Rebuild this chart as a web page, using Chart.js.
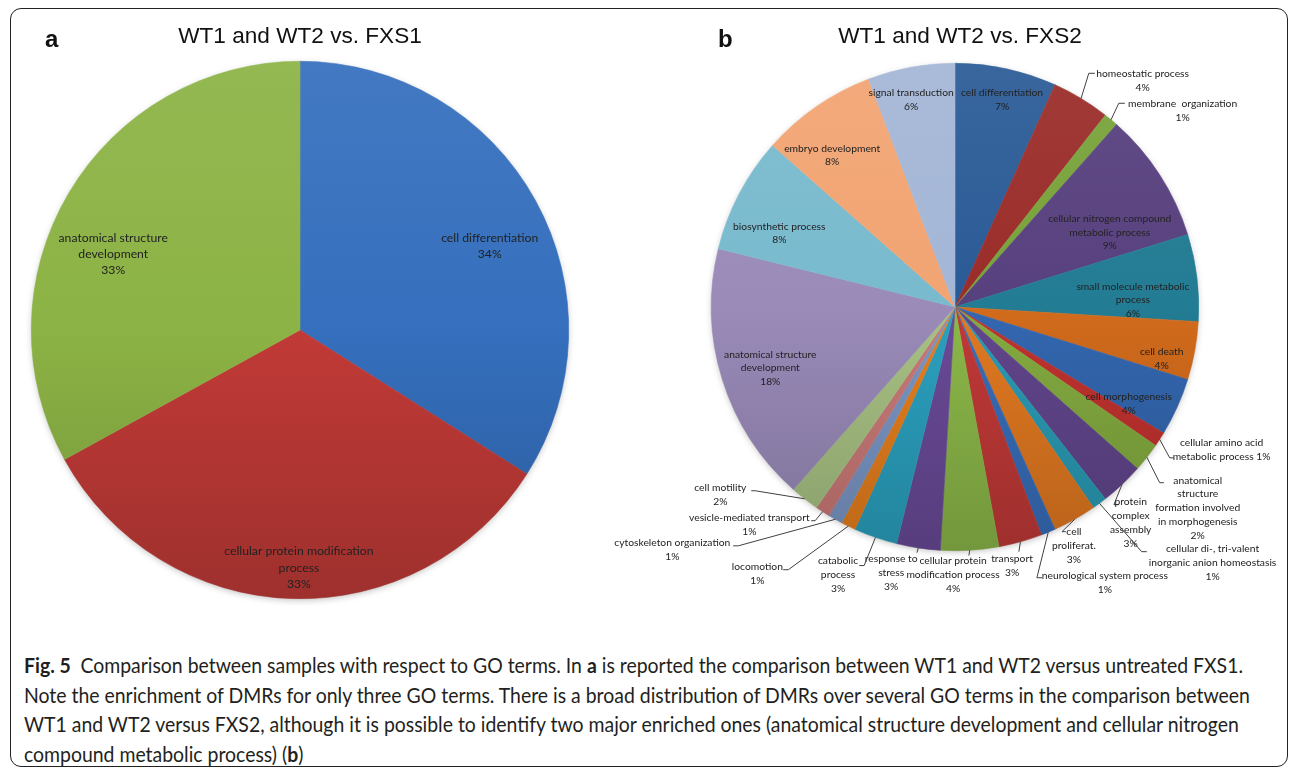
<!DOCTYPE html>
<html>
<head>
<meta charset="utf-8">
<title>Fig. 5 – GO terms</title>
<script src="https://cdn.jsdelivr.net/npm/chart.js@4.4.1/dist/chart.umd.min.js"></script>
<style>
  html, body { margin: 0; padding: 0; background: #fff; }
  body { width: 1295px; height: 773px; position: relative; overflow: hidden; }
  #frame {
    position: absolute; left: 10px; top: 8px; width: 1278px; height: 759px;
    box-sizing: border-box; border: 1.3px solid #222; border-radius: 11px;
  }
  canvas { position: absolute; }
  #chartA { left: 0; top: 0; }
  #chartB { left: 600px; top: 0; }
  #caption { position: absolute; left: 24px; top: 651px; color: #231f20;
    font-family: Lato, "Open Sans", sans-serif; font-size: 21.5px; }
  #caption .ln { height: 29.5px; line-height: 29.5px; white-space: nowrap; transform-origin: 0 50%; }
  #caption .ln span { display: inline-block; }
  #caption b { font-weight: 700; }
</style>
</head>
<body>
<div id="frame"></div>
<canvas id="chartA" width="650" height="610"></canvas>
<canvas id="chartB" width="695" height="610"></canvas>
<div id="caption">
  <div class="ln"><span><b>Fig. 5</b>&ensp;Comparison between samples with respect to GO terms. In <b>a</b> is reported the comparison between WT1 and WT2 versus untreated FXS1.</span></div>
  <div class="ln"><span>Note the enrichment of DMRs for only three GO terms. There is a broad distribution of DMRs over several GO terms in the comparison between</span></div>
  <div class="ln"><span>WT1 and WT2 versus FXS2, although it is possible to identify two major enriched ones (anatomical structure development and cellular nitrogen</span></div>
  <div class="ln"><span>compound metabolic process) (<b>b</b>)</span></div>
</div>
<script>
// ---- Panel a: WT1 and WT2 vs. FXS1 (clockwise from 12 o'clock) ----
const termsA = [
  'cell differentiation',
  'cellular protein modification\nprocess',
  'anatomical structure\ndevelopment'
];
const percentA = [34, 33, 33];
const coloursA = ['#356fbd', '#c13a37', '#8cb345'];

// ---- Panel b: WT1 and WT2 vs. FXS2 (clockwise from 12 o'clock) ----
const termsB = [
  'cell differentiation',
  'homeostatic process',
  'membrane  organization',
  'cellular nitrogen compound\nmetabolic process',
  'small molecule metabolic\nprocess',
  'cell death',
  'cell morphogenesis',
  'cellular amino acid\nmetabolic process',
  'anatomical\nstructure\nformation involved\nin morphogenesis',
  'protein\ncomplex\nassembly',
  'cellular di-, tri-valent\ninorganic anion homeostasis',
  'cell\nproliferat.',
  'neurological system process',
  'transport',
  'cellular protein\nmodification process',
  'response to\nstress',
  'catabolic\nprocess',
  'locomotion',
  'cytoskeleton organization',
  'vesicle-mediated transport',
  'cell motility',
  'anatomical structure\ndevelopment',
  'biosynthetic process',
  'embryo development',
  'signal transduction'
];
const percentB = [7, 4, 1, 9, 6, 4, 4, 1, 2, 3, 1, 3, 1, 3, 4, 3, 3, 1, 1, 1, 2, 18, 8, 8, 6];
const coloursB = [
  '#2a5a96', '#9a2c29', '#78a23a', '#57407e', '#227c93', '#d26b1c',
  '#3367b0', '#c1322e', '#84ab40', '#61468c', '#2a9bb5', '#e17921',
  '#386eba', '#c13937', '#8cb849', '#6a4a98', '#2ba1c0', '#e77f1d',
  '#7b97c6', '#ca7a78', '#a8c284', '#9a8bb9', '#79bace', '#f2a472', '#a4b6d6'
];

// Label placement in pie radii from the centre; leader = bend points after the rim
const labelLayoutA = [
  { at: [0.706, -0.312] },
  { at: [-0.004, 0.885] },
  { at: [-0.695, -0.283] }
];
const labelLayoutB = [
  { at: [0.193, -0.852] },
  { at: [0.770, -0.930], leader: [[0.549, -0.959], [0.574, -0.959]] },
  { at: [0.934, -0.807], leader: [[0.672, -0.836], [0.697, -0.836]] },
  { at: [0.635, -0.307] },
  { at: [0.730, -0.029] },
  { at: [0.848, 0.213] },
  { at: [0.713, 0.398] },
  { at: [1.094, 0.586], inline: true, leader: [[0.881, 0.619], [0.898, 0.619]] },
  { at: [0.996, 0.824], leader: [[0.840, 0.721], [0.857, 0.721]] },
  { at: [0.721, 0.885], leader: [[0.652, 0.811], [0.672, 0.811]] },
  { at: [1.057, 1.049], leader: [[0.766, 1.004], [0.787, 1.004]] },
  { at: [0.488, 0.980], leader: [[0.439, 0.922], [0.455, 0.922]] },
  { at: [0.615, 1.131], leader: [[0.336, 1.111], [0.357, 1.111]] },
  { at: [0.234, 1.061], leader: [[0.262, 1.004]] },
  { at: [-0.008, 1.098], leader: [[0.057, 1.020]] },
  { at: [-0.262, 1.090], leader: [[-0.156, 1.008]] },
  { at: [-0.480, 1.098], leader: [[-0.373, 1.061], [-0.393, 1.061]] },
  { at: [-0.811, 1.094], leader: [[-0.684, 1.078], [-0.705, 1.078]] },
  { at: [-1.160, 0.996], leader: [[-0.889, 0.980], [-0.910, 0.980]] },
  { at: [-0.844, 0.893], leader: [[-0.574, 0.877], [-0.590, 0.877]] },
  { at: [-0.963, 0.770], leader: [[-0.820, 0.754], [-0.836, 0.754]] },
  { at: [-0.758, 0.250] },
  { at: [-0.721, -0.303] },
  { at: [-0.504, -0.623] },
  { at: [-0.180, -0.852] }
];

// Mix a hex colour toward white (f > 0) or black (f < 0)
function shade(hex, f) {
  const n = parseInt(hex.slice(1), 16);
  const t = f < 0 ? 0 : 255, p = Math.abs(f);
  const mix = v => Math.round(v + (t - v) * p);
  return `rgb(${mix(n >> 16)},${mix((n >> 8) & 255)},${mix(n & 255)})`;
}

// Top-lit vertical gradient across the whole pie
function sliceFill(colours) {
  return (c) => {
    const base = colours[c.dataIndex];
    const area = c.chart.chartArea;
    if (!area) return base;
    const g = c.chart.ctx.createLinearGradient(0, area.top, 0, area.bottom);
    g.addColorStop(0, shade(base, 0.07));
    g.addColorStop(0.5, base);
    g.addColorStop(1, shade(base, -0.18));
    return g;
  };
}

// Soft drop shadow under the pie
const pieShadow = {
  id: 'pieShadow',
  beforeDatasetsDraw(chart) {
    const arc = chart.getDatasetMeta(0).data[0];
    if (!arc) return;
    const { x, y, outerRadius } = arc.getProps(['x', 'y', 'outerRadius'], true);
    const ctx = chart.ctx;
    ctx.save();
    ctx.shadowColor = 'rgba(0,0,0,0.28)';
    ctx.shadowBlur = 7;
    ctx.shadowOffsetY = 2;
    ctx.fillStyle = '#fff';
    ctx.beginPath();
    ctx.arc(x, y, outerRadius - 1, 0, Math.PI * 2);
    ctx.fill();
    ctx.restore();
  }
};

// Category name + percentage, with optional leader line
const sliceLabels = {
  id: 'sliceLabels',
  afterDatasetsDraw(chart, args, o) {
    const ctx = chart.ctx;
    const meta = chart.getDatasetMeta(0);
    const values = chart.data.datasets[0].data;
    ctx.save();
    ctx.font = `${o.size}px ${o.family}`;
    ctx.fillStyle = o.color;
    ctx.strokeStyle = o.lineColor;
    ctx.lineWidth = 1;
    ctx.textAlign = 'center';
    ctx.textBaseline = 'middle';
    meta.data.forEach((arc, i) => {
      const { x, y, startAngle, endAngle, outerRadius: R } =
        arc.getProps(['x', 'y', 'startAngle', 'endAngle', 'outerRadius'], true);
      const spec = o.layout[i];
      const text = chart.data.labels[i] + (spec.inline ? ' ' : '\n') + values[i] + '%';
      const lines = text.split('\n');
      if (spec.leader) {
        const mid = (startAngle + endAngle) / 2;
        ctx.beginPath();
        ctx.moveTo(x + Math.cos(mid) * R, y + Math.sin(mid) * R);
        spec.leader.forEach(p => ctx.lineTo(x + p[0] * R, y + p[1] * R));
        ctx.stroke();
      }
      const cx = x + spec.at[0] * R, cy = y + spec.at[1] * R;
      lines.forEach((ln, k) => ctx.fillText(ln, cx, cy + (k - (lines.length - 1) / 2) * o.lineHeight));
    });
    ctx.restore();
  }
};

// Panel letter and chart title
const panelHeader = {
  id: 'panelHeader',
  afterDraw(chart, args, o) {
    const ctx = chart.ctx;
    ctx.save();
    ctx.fillStyle = '#111';
    ctx.textBaseline = 'alphabetic';
    ctx.font = 'bold 24px "Liberation Sans", Arial, sans-serif';
    ctx.textAlign = 'left';
    ctx.fillText(o.letter, o.letterX, o.baseline + 4);
    ctx.font = '22.6px "Liberation Sans", Arial, sans-serif';
    ctx.textAlign = 'center';
    ctx.fillText(o.title, o.titleX, o.baseline);
    ctx.restore();
  }
};

function pieChart(id, labels, values, colours, padding, labelOpts, header) {
  return new Chart(document.getElementById(id), {
    type: 'pie',
    data: {
      labels,
      datasets: [{
        data: values,
        backgroundColor: sliceFill(colours),
        borderColor: sliceFill(colours),
        borderWidth: 0.6
      }]
    },
    options: {
      responsive: false,
      animation: false,
      rotation: 0,
      layout: { padding },
      plugins: {
        legend: { display: false },
        tooltip: { enabled: false },
        sliceLabels: labelOpts,
        panelHeader: header
      }
    },
    plugins: [pieShadow, sliceLabels, panelHeader]
  });
}

pieChart('chartA', termsA, percentA, coloursA,
  { left: 31, right: 81, top: 61, bottom: 11 },
  { layout: labelLayoutA, size: 12.2, lineHeight: 16.3, family: 'Lato, "Open Sans", sans-serif',
    color: '#222', lineColor: '#404040' },
  { letter: 'a', title: 'WT1 and WT2 vs. FXS1', letterX: 45, titleX: 300, baseline: 43 });

pieChart('chartB', termsB, percentB, coloursB,
  { left: 111, right: 96, top: 63, bottom: 59 },
  { layout: labelLayoutB, size: 10.3, lineHeight: 13.7, family: 'Lato, "Open Sans", sans-serif',
    color: '#222', lineColor: '#404040' },
  { letter: 'b', title: 'WT1 and WT2 vs. FXS2', letterX: 118, titleX: 360, baseline: 43 });

// Condense the caption so the first line spans the full text width
(function fitCaption() {
  const lines = Array.from(document.querySelectorAll('#caption .ln'));
  const w = lines[0].querySelector('span').getBoundingClientRect().width;
  const s = 1219 / w;
  lines.forEach(l => { l.style.transform = `scaleX(${s})`; });
})();
</script>
</body>
</html>
